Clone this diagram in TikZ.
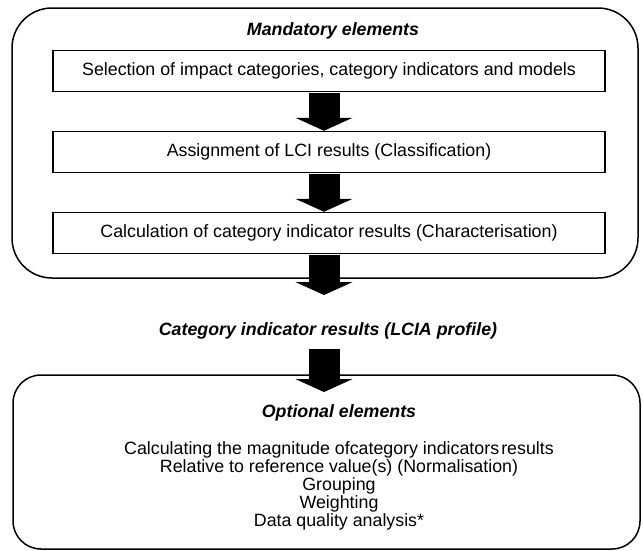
\documentclass[tikz,border=0pt]{standalone}
\usepackage{fontspec}
\setmainfont{Liberation Sans}
\usetikzlibrary{arrows.meta}
\tikzset{
  lw/.style={line width=1.5pt},
  stepbox/.style={draw, lw, minimum width=552pt, minimum height=41pt, inner sep=0pt,
    font=\fontsize{17.8}{18}\selectfont},
  bigbox/.style={draw, lw, inner sep=0pt},
  title/.style={font=\fontsize{17.8}{18}\selectfont\bfseries\itshape, inner sep=0pt},
  bodytext/.style={font=\fontsize{17.8}{18}\selectfont, align=center, inner sep=0pt},
  bigarrow/.style={line width=31pt, -{Triangle[width=57pt,length=13pt]}, shorten <=0.7pt}
}
\begin{document}
\begin{tikzpicture}[x=1pt,y=-1pt]
\useasboundingbox (0,0) rectangle (643,550);
% mandatory frame
\node[bigbox, rounded corners=40pt, minimum width=626pt, minimum height=270pt] (mand) at (325,143) {};
\node[title] (mtitle) at (333,31) {Mandatory elements};
\node[stepbox] (b1) at (329,71) {Selection of impact categories, category indicators and models};
\node[stepbox] (b2) at (329,152) {Assignment of LCI results (Classification)};
\node[stepbox] (b3) at (329,233) {Calculation of category indicator results (Characterisation)};
% result
\node[title] (res) at (328,331) {Category indicator results (LCIA profile)};
% optional frame
\node[bigbox, rounded corners=28pt, minimum width=627pt, minimum height=174pt] (opt) at (326.5,462) {};
\node[title] (otitle) at (339,413) {Optional elements};
\node[bodytext] (olist) at (339,486) {Calculating the magnitude ofcategory indicators\hspace{0.12em}results\\
Relative to reference value(s) (Normalisation)\\
Grouping\\
Weighting\\
Data quality analysis*};
% arrows
\coordinate (a3end) at (324,295);
\coordinate (a4start) at (324,348);
\coordinate (a4end) at (324,392);
\draw[bigarrow] ([xshift=-5pt]b1.south) -- ([xshift=-5pt]b2.north);
\draw[bigarrow] ([xshift=-5pt]b2.south) -- ([xshift=-5pt]b3.north);
\draw[bigarrow] ([xshift=-5pt]b3.south) -- (a3end);
\draw[bigarrow] (a4start) -- (a4end);
\end{tikzpicture}
\end{document}
